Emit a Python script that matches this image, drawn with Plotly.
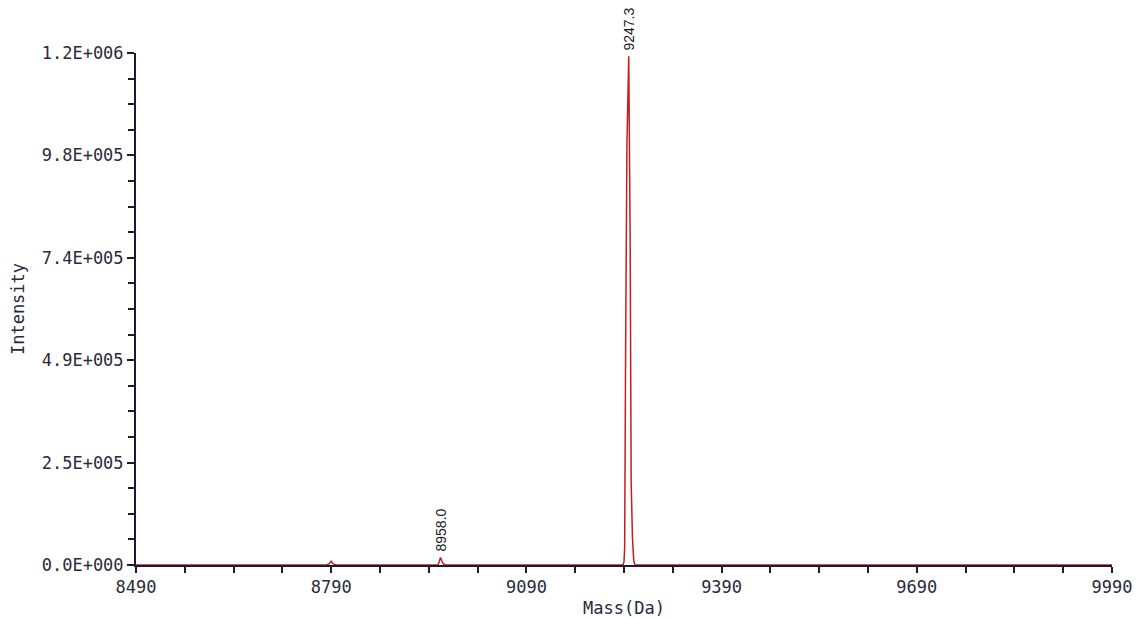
import plotly.graph_objects as go

# ---- data ----
mass = [8490, 8783, 8787, 8790, 8793, 8797,
        8950, 8954, 8956, 8958, 8960, 8962, 8966,
        9236, 9238.5, 9240, 9241, 9242.5, 9244.5, 9247.3, 9249.5, 9251, 9253, 9255, 9257,
        9990]
intensity = [0, 0, 3000, 9000, 3000, 0,
             0, 0, 8000, 18000, 10000, 3000, 0,
             0, 0, 8000, 40000, 520000, 1010000, 1220000, 770000, 200000, 65000, 10000, 0,
             0]

peak_mass = [8958.0, 9247.3]
peak_height = [18000, 1220000]
peak_labels = ["8958.0", "9247.3"]

x_ticks = [8490, 8790, 9090, 9390, 9690, 9990]
y_ticks = [0, 245600, 491200, 736800, 982400, 1228000]
y_tick_labels = ["0.0E+000", "2.5E+005", "4.9E+005", "7.4E+005", "9.8E+005", "1.2E+006"]

axis_font = dict(family="DejaVu Sans Mono", size=17, color="#2a2a3a")
axis_color = "#1a1a33"
line_color = "#c41e1e"

fig = go.Figure()
fig.add_trace(go.Scatter(x=mass, y=intensity, mode="lines",
                         line=dict(color=line_color, width=1.5),
                         hoverinfo="skip", showlegend=False, cliponaxis=False))

for m, h, t in zip(peak_mass, peak_height, peak_labels):
    fig.add_annotation(x=m, y=h, xref="x", yref="y", text=t, textangle=-90,
                       showarrow=False, yanchor="bottom", xanchor="center", yshift=4,
                       font=dict(family="Liberation Sans", size=14, color="#1a1a1a"))

# the page body adds an 8px offset, so the figure is sized to fit the window
fig.update_layout(
    width=1132, height=611,
    margin=dict(l=128, r=28, t=45, b=54),
    paper_bgcolor="white", plot_bgcolor="white",
    showlegend=False,
    xaxis=dict(range=[8490, 9990], tickvals=x_ticks, ticktext=[str(v) for v in x_ticks],
               automargin=False,
               showgrid=False, zeroline=False, showline=True, linecolor=axis_color, linewidth=2,
               ticks="outside", ticklen=6, tickwidth=1.5, tickcolor=axis_color,
               tickfont=axis_font,
               minor=dict(dtick=75, tick0=8490, ticks="outside", ticklen=6, tickwidth=1.5,
                          tickcolor=axis_color, showgrid=False),
               title=dict(text="Mass(Da)", font=axis_font, standoff=6)),
    yaxis=dict(range=[0, 1228000], tickvals=y_ticks, ticktext=y_tick_labels,
               automargin=False,
               showgrid=False, zeroline=False, showline=True, linecolor=axis_color, linewidth=2,
               ticks="outside", ticklen=7, tickwidth=1.5, tickcolor=axis_color,
               tickfont=axis_font,
               minor=dict(dtick=61400, tick0=0, ticks="outside", ticklen=6, tickwidth=1.5,
                          tickcolor=axis_color, showgrid=False),
               title=dict(text="Intensity", font=axis_font, standoff=18)),
)

fig.write_html("out.html")
